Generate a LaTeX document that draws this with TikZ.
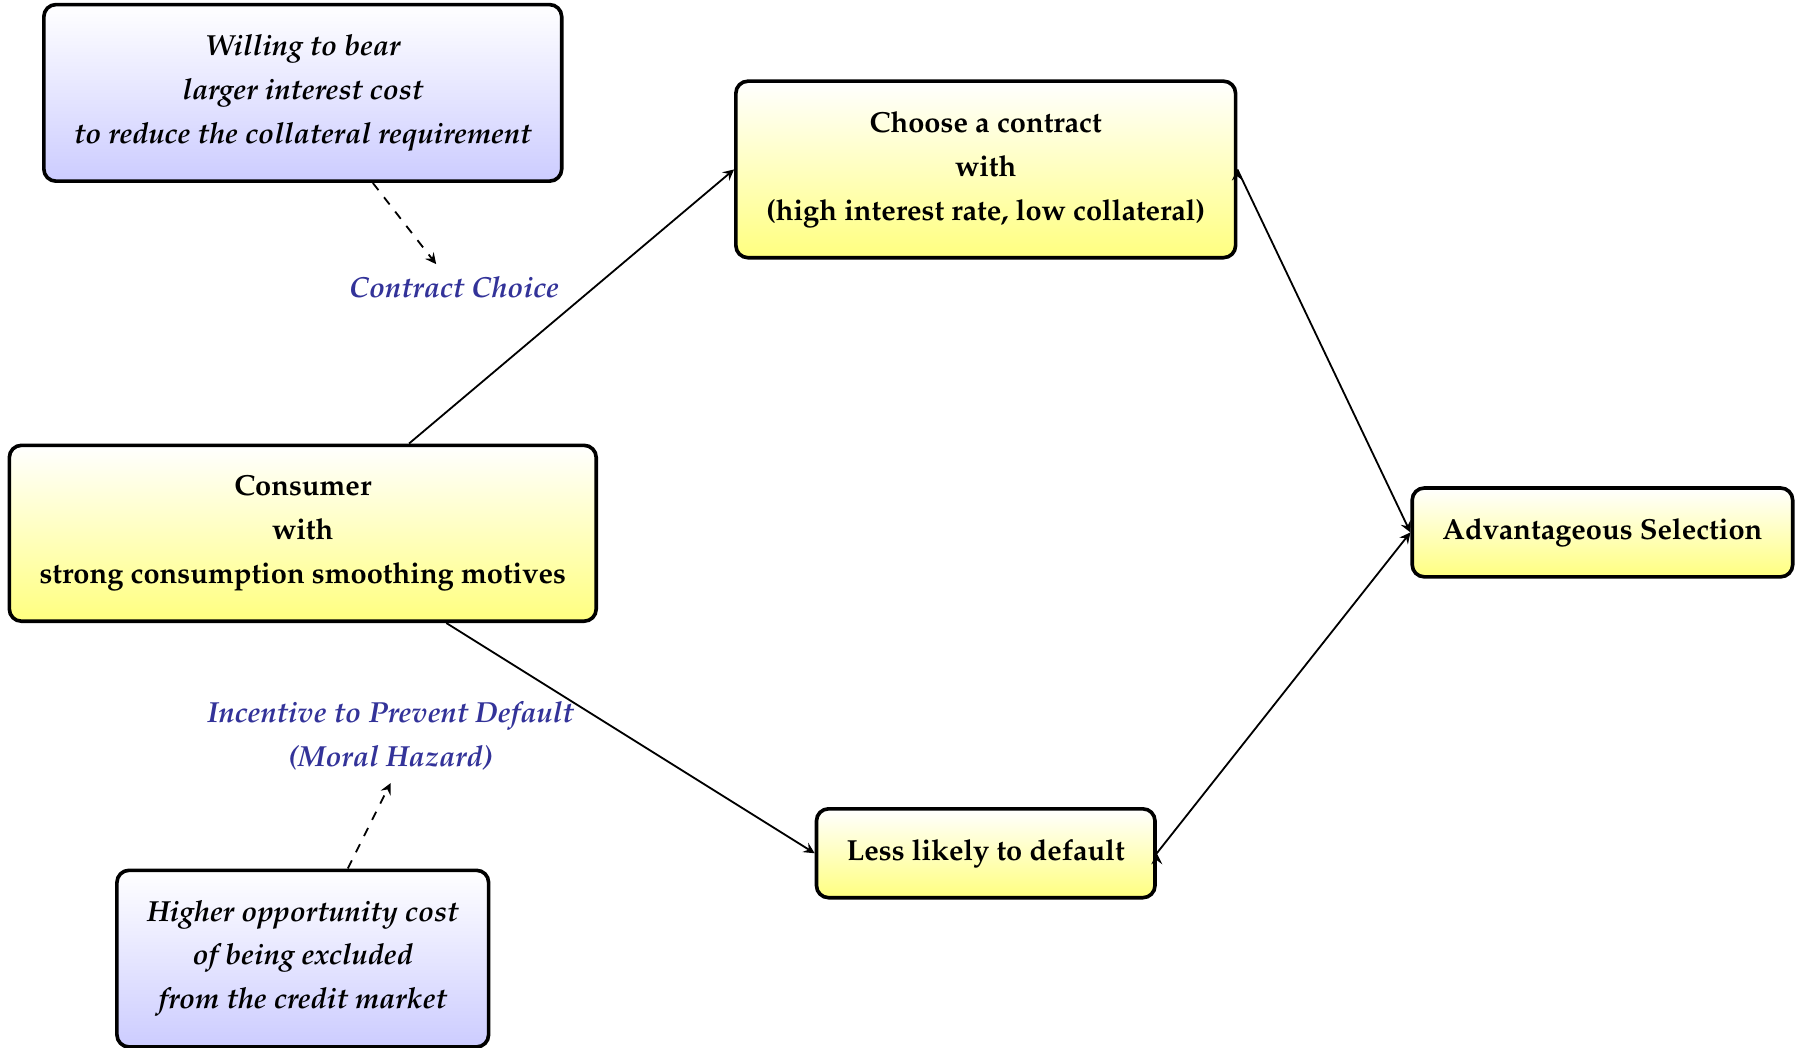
\documentclass[tikz,border=0pt,12pt]{standalone}
\usepackage[T1]{fontenc}
\usepackage{mathpazo}
\definecolor{labelblue}{RGB}{51,51,153}
\begin{document}
\begin{tikzpicture}[
    every node/.style={font=\fontsize{9.6pt}{14.5pt}\selectfont\bfseries},
    mainbox/.style={draw=black, very thick, rounded corners=4pt, align=center, inner xsep=10pt, inner ysep=10pt,
        top color=white, bottom color=yellow!50},
    sidebox/.style={draw=black, very thick, rounded corners=4pt, align=center, inner xsep=10pt, inner ysep=10pt,
        top color=white, bottom color=blue!20, font=\fontsize{9.6pt}{14.5pt}\selectfont\bfseries\itshape},
    channel/.style={align=center, text=labelblue, font=\fontsize{9.6pt}{14.5pt}\selectfont\bfseries\itshape}
]
\useasboundingbox (0,0) rectangle (20.95,12.18);
\node[mainbox] (consumer) at (3.52, 5.98) {Consumer\\with\\strong consumption smoothing motives};
\node[mainbox] (choose) at (11.46, 10.21) {Choose a contract\\with\\(high interest rate, low collateral)};
\node[mainbox] (less) at (11.46, 2.26) {Less likely to default};
\node[mainbox] (adv) at (18.63, 5.99) {Advantageous Selection};
\node[sidebox] (willing) at (3.52, 11.10) {Willing to bear\\larger interest cost\\to reduce the collateral requirement};
\node[sidebox] (higher) at (3.52, 1.035) {Higher opportunity cost\\of being excluded\\from the credit market};
\node[channel] (choice) at (5.28, 8.84) {Contract Choice};
\node[channel] (incentive) at (4.54, 3.62) {Incentive to Prevent Default\\(Moral Hazard)};
\path [-stealth, semithick, draw=black] (consumer) edge (choose.west);
\path [-stealth, semithick, draw=black] (consumer) edge (less.west);
\path [-stealth, semithick, draw=black] (choose.east) edge (adv.west);
\path [-stealth, semithick, draw=black] (less.east) edge (adv.west);
\path [-stealth, semithick, dashed, draw=black] (willing) edge (choice);
\path [-stealth, semithick, dashed, draw=black] (higher) edge (incentive.south);
\end{tikzpicture}
\end{document}
